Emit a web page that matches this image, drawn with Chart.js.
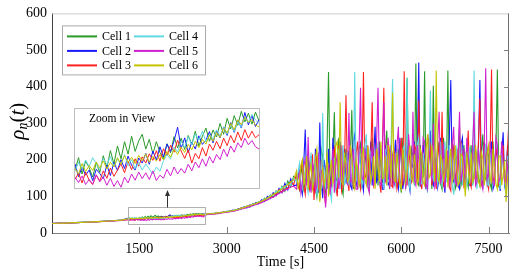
<!DOCTYPE html>
<html>
<head>
<meta charset="utf-8">
<script src="https://cdn.jsdelivr.net/npm/chart.js@4.4.0/dist/chart.umd.min.js"></script>
<style>
  html, body { margin: 0; padding: 0; background: #fff; }
  #wrap { position: relative; width: 512px; height: 271px; }
  #main { position: absolute; left: 0; top: 0; }
  #insetBox { position: absolute; left: 74px; top: 108px; width: 184px; height: 79px;
              border: 1px solid #bdbdbd; background: #fff; }
</style>
</head>
<body>
<div id="wrap">
  <canvas id="main" width="512" height="271"></canvas>
  <div id="insetBox"><canvas id="inset" width="184" height="79"></canvas></div>
</div>
<script>
// sampling grid: [start, step, count]
const segments = [[0, 100, 13], [1300, 25, 53], [2650, 50, 31], [4200, 25, 147]];
const labels = ['Cell 1', 'Cell 2', 'Cell 3', 'Cell 4', 'Cell 5', 'Cell 6'];
const colors = ['#2a9a2a', '#1a1aff', '#ff2020', '#5fd8e0', '#d020d0', '#c4c400'];
const xTicks = [1500, 3000, 4500, 6000, 7500];
const yTicks = [0, 100, 200, 300, 400, 500, 600];

const cell1 = [
  26, 26.5, 27, 27.6, 28.2, 28.9, 29.6, 30.4, 31.2, 32, 33, 34, 35.2,
  38.5, 41.8, 37.6, 40.9, 39.2, 36.8, 40.5, 38.0, 42.3, 39.1,
  43.6, 40.2, 44.8, 41.5, 45.9, 42.7, 47.3, 43.4, 46.1, 47.8,
  44.0, 46.5, 42.8, 45.9, 43.1, 41.6, 45.4, 43.0, 47.2, 44.3,
  46.8, 43.9, 47.5, 45.2, 48.6, 44.8, 47.3, 49.4, 46.0, 48.9,
  47.1, 50.6, 47.8, 51.9, 49.2, 52.6, 50.1, 53.7, 51.0, 53.2,
  50.4, 53.5, 51.3,
  52, 51, 54, 52.5, 55.5, 54, 58, 57, 61, 59.5, 64, 63.5, 69, 68, 74, 71, 80, 78, 86, 84,
  95, 92, 104, 98, 115, 108, 128, 114, 142, 126, 155,
  150, 132, 118, 160, 185, 120, 140, 175, 205, 150, 125, 190, 170, 120, 98, 145, 160, 230, 210, 130,
  110, 240, 440, 160, 125, 210, 330, 140, 150, 260, 200, 125, 105, 180, 230, 150, 140, 210, 336, 120,
  160, 190, 120, 230, 245, 130, 150, 220, 190, 140, 115, 200, 260, 135, 170, 215, 130, 250, 210, 140,
  145, 220, 280, 150, 120, 240, 195, 130, 160, 200, 230, 140, 110, 260, 175, 120, 424, 150, 140, 230,
  210, 130, 463, 140, 130, 240, 190, 150, 442, 130, 150, 260, 220, 120, 402, 160, 140, 220, 250, 135,
  120, 260, 200, 150, 444, 140, 160, 250, 230, 120, 135, 210, 290, 130, 150, 240, 185, 145, 125, 200,
  240, 130, 160, 230, 200, 150, 130, 220, 270, 140, 150, 230, 210, 135, 120, 250, 180, 220, 447, 130,
  140, 250, 220, 150, 110, 230, 190
];
const cell2 = [
  26.2, 26.6, 27.2, 27.7, 28.4, 29, 29.8, 30.5, 31.4, 32.3, 33.2, 34.3, 35.5,
  40.2, 36.9, 39.4, 37.3, 38.6, 35.9, 38.8, 37.7, 36.4, 39.9,
  37.2, 40.6, 38.5, 41.3, 39.0, 42.2, 39.8, 38.6, 41.7, 40.4,
  42.9, 40.1, 43.5, 41.2, 44.6, 42.0, 45.3, 43.4, 46.1, 49.6,
  44.2, 46.9, 43.1, 45.8, 44.0, 47.4, 45.2, 46.3, 48.5, 45.6,
  48.8, 46.9, 49.7, 47.5, 50.8, 48.3, 51.5, 49.4, 53.4, 50.2,
  52.6, 49.8, 51.6,
  50, 53, 51.5, 54.5, 53, 56.5, 56, 59.5, 58, 62.5, 61, 66.5, 65, 72, 69, 77, 74, 83, 80, 91,
  86, 100, 94, 110, 102, 122, 110, 136, 118, 148, 130,
  130, 150, 175, 125, 105, 190, 283, 140, 150, 180, 210, 135, 120, 230, 180, 110, 302, 140, 95, 200,
  170, 120, 230, 140, 130, 260, 190, 125, 110, 200, 250, 140, 160, 230, 135, 190, 225, 130, 120, 250,
  270, 130, 145, 220, 190, 140, 115, 200, 240, 135, 165, 250, 130, 210, 290, 140, 150, 230, 180, 120,
  120, 240, 210, 130, 170, 230, 135, 200, 255, 140, 120, 260, 195, 120, 150, 210, 230, 140, 115, 190,
  180, 250, 140, 230, 466, 130, 125, 240, 205, 120, 160, 220, 280, 140, 130, 210, 190, 125, 150, 260,
  230, 140, 110, 230, 175, 260, 418, 150, 140, 200, 210, 130, 120, 240, 260, 140, 165, 225, 200, 130,
  130, 210, 240, 140, 150, 230, 418, 160, 120, 250, 190, 135, 160, 220, 250, 120, 135, 240, 205, 140,
  115, 220, 275, 130, 150, 240, 200
];
const cell3 = [
  25.8, 26.3, 26.9, 27.4, 28, 28.7, 29.4, 30.2, 31, 31.9, 32.8, 33.8, 35,
  36.2, 37.8, 35.3, 38.1, 36.0, 34.9, 37.3, 35.8, 38.4, 36.5,
  39.1, 37.0, 38.6, 40.2, 37.9, 40.8, 38.7, 41.5, 39.6, 42.0,
  40.4, 42.8, 41.1, 43.6, 40.9, 44.1, 42.3, 45.0, 43.2, 46.3,
  43.5, 41.6, 43.8, 40.4, 42.9, 41.5, 44.4, 42.2, 45.3, 43.7,
  46.0, 44.1, 46.8, 44.9, 47.5, 45.6, 48.4, 46.2, 49.0, 46.8,
  48.6, 46.9, 47.7,
  51.5, 52, 53, 52, 55, 55, 57.5, 57, 59, 61.5, 62, 64, 68, 69, 71, 76, 76, 81, 82, 88,
  89, 96, 97, 106, 104, 118, 112, 122, 122, 140, 132,
  160, 135, 120, 175, 195, 130, 105, 160, 175, 120, 140, 215, 90, 150, 210, 120, 125, 200, 165, 110,
  80, 160, 190, 120, 150, 210, 230, 130, 100, 240, 170, 115, 140, 200, 376, 150, 115, 240, 200, 130,
  150, 220, 250, 140, 120, 190, 440, 150, 160, 240, 130, 210, 357, 130, 145, 250, 200, 140, 110, 230,
  397, 140, 150, 250, 220, 130, 125, 230, 185, 120, 140, 210, 260, 130, 442, 160, 130, 240, 190, 140,
  155, 240, 230, 135, 362, 150, 120, 220, 180, 130, 145, 260, 240, 130, 160, 220, 120, 250, 210, 140,
  331, 130, 140, 230, 190, 125, 115, 245, 230, 140, 170, 230, 135, 250, 205, 130, 150, 200, 280, 140,
  125, 230, 190, 140, 160, 250, 367, 130, 140, 250, 215, 140, 120, 210, 447, 140, 150, 245, 200, 130,
  130, 200, 240, 140, 155, 230, 310
];
const cell4 = [
  26.1, 26.7, 27.1, 27.8, 28.3, 29.1, 29.7, 30.6, 31.3, 32.2, 33.1, 34.2, 35.4,
  38.4, 40.6, 38.9, 41.2, 39.5, 41.8, 40.2, 38.7, 41.6, 40.0,
  42.1, 39.5, 41.4, 40.1, 42.6, 39.7, 41.3, 39.0, 40.6, 38.6,
  40.2, 38.9, 37.6, 39.4, 38.3, 41.0, 42.6, 41.4, 44.5, 43.2,
  46.1, 44.4, 47.2, 45.1, 47.9, 46.3, 48.6, 45.9, 47.8, 46.6,
  48.9, 47.4, 49.6, 47.8, 50.4, 48.5, 51.1, 49.6, 52.3, 50.7,
  52.9, 51.5, 50.6,
  50.5, 52.5, 52, 54, 54, 56, 56.5, 58.5, 60, 60.5, 63.5, 65, 66.5, 71, 72, 74, 79, 79, 85, 86,
  93, 94, 103, 103, 114, 113, 125, 122, 136, 130, 150,
  140, 165, 190, 135, 120, 150, 175, 130, 110, 170, 220, 130, 150, 205, 100, 160, 185, 120, 328, 140,
  125, 210, 170, 115, 90, 170, 205, 120, 145, 230, 120, 190, 240, 130, 160, 220, 130, 190, 210, 140,
  440, 150, 135, 220, 180, 130, 150, 240, 270, 130, 125, 215, 190, 140, 140, 250, 230, 140, 160, 210,
  120, 230, 200, 140, 145, 250, 421, 150, 130, 240, 175, 130, 150, 225, 240, 130, 423, 140, 120, 200,
  195, 135, 150, 240, 260, 140, 135, 220, 180, 150, 110, 210, 389, 160, 145, 230, 210, 135, 160, 250,
  125, 200, 250, 140, 140, 240, 190, 130, 105, 205, 230, 140, 160, 245, 130, 200, 215, 130, 150, 235,
  180, 130, 444, 150, 120, 230, 200, 140, 150, 210, 245, 135, 130, 220, 185, 130, 140, 250, 230, 150,
  120, 230, 175, 140, 100, 210, 160
];
const cell5 = [
  25.9, 26.4, 26.8, 27.3, 27.9, 28.6, 29.3, 30, 30.8, 31.6, 32.5, 33.4, 34.6,
  36.8, 35.4, 37.1, 34.9, 36.2, 35.0, 37.4, 35.6, 36.8, 34.7,
  36.5, 34.4, 35.9, 34.2, 36.8, 35.3, 37.6, 36.0, 38.1, 36.4,
  37.9, 36.2, 38.4, 35.9, 37.3, 36.5, 38.8, 37.1, 39.4, 37.6,
  39.0, 37.8, 40.1, 38.4, 40.7, 39.2, 41.5, 39.6, 42.1, 40.4,
  42.6, 41.3, 44.0, 42.1, 44.8, 43.2, 45.6, 44.4, 46.8, 45.1,
  46.2, 44.6, 44.0,
  50, 51, 51.5, 52.5, 53, 54.5, 55.5, 56.5, 58, 59, 61, 63, 65.5, 67, 70, 72, 75, 77, 80, 83,
  87, 90, 95, 98, 103, 108, 112, 117, 120, 126, 128,
  120, 150, 165, 110, 140, 185, 200, 130, 262, 140, 110, 190, 175, 115, 130, 220, 90, 170, 160, 120,
  70, 150, 185, 105, 140, 230, 110, 180, 220, 120, 150, 240, 125, 200, 190, 130, 328, 140, 140, 230,
  170, 120, 120, 240, 397, 150, 145, 230, 200, 125, 110, 205, 235, 130, 160, 250, 397, 140, 130, 215,
  357, 140, 170, 260, 120, 230, 210, 130, 150, 240, 290, 140, 135, 225, 180, 125, 150, 270, 220, 140,
  331, 145, 130, 240, 200, 130, 170, 260, 250, 135, 120, 230, 185, 140, 300, 125, 140, 250, 331, 135,
  160, 245, 120, 200, 225, 130, 150, 240, 290, 140, 130, 210, 331, 140, 165, 230, 120, 260, 205, 135,
  150, 240, 331, 130, 140, 230, 180, 140, 120, 240, 450, 150, 160, 250, 200, 135, 130, 260, 240, 140,
  150, 250, 190, 140, 130, 180, 230
];
const cell6 = [
  26, 26.5, 27.1, 27.6, 28.3, 28.9, 29.6, 30.3, 31.1, 32, 32.9, 34, 35.3,
  39.0, 37.6, 40.3, 38.2, 39.8, 38.5, 40.7, 39.1, 41.0, 38.9,
  40.6, 39.4, 41.8, 40.1, 42.3, 40.6, 41.9, 40.3, 42.4, 41.0,
  42.8, 40.6, 42.1, 40.9, 42.6, 41.2, 43.4, 41.9, 44.0, 42.6,
  44.5, 43.1, 45.2, 43.8, 46.0, 44.4, 46.5, 45.3, 47.6, 46.0,
  48.3, 47.0, 49.4, 48.1, 50.6, 49.0, 51.5, 50.3, 52.2, 50.9,
  51.6, 50.2, 49.7,
  51, 52.5, 52.5, 54, 55, 55.5, 57, 58, 59.5, 61, 63, 65, 67, 70, 73, 75, 78, 80, 84, 87,
  91, 96, 99, 106, 109, 116, 120, 128, 132, 140, 145,
  170, 125, 140, 185, 200, 130, 160, 210, 120, 165, 190, 120, 140, 205, 230, 150, 85, 140, 180, 130,
  150, 220, 100, 170, 200, 135, 160, 240, 250, 150, 357, 140, 130, 220, 185, 140, 150, 240, 210, 135,
  120, 200, 175, 130, 145, 215, 230, 145, 130, 235, 200, 140, 160, 210, 120, 230, 185, 140, 250, 150,
  150, 210, 130, 240, 205, 150, 383, 145, 140, 220, 175, 135, 120, 230, 195, 140, 165, 210, 240, 150,
  140, 215, 180, 135, 150, 230, 215, 140, 130, 225, 270, 150, 160, 240, 190, 140, 444, 155, 140, 210,
  200, 140, 170, 230, 125, 200, 230, 140, 155, 240, 185, 130, 140, 215, 210, 150, 100, 220, 175, 135,
  220, 140, 150, 240, 190, 140, 130, 220, 205, 130, 165, 215, 240, 150, 140, 230, 180, 135, 120, 210,
  210, 130, 160, 200, 85, 150, 175
];
const cells = [cell1, cell2, cell3, cell4, cell5, cell6];

// zoomed window shown in the inset
const zoomT0 = 1300, zoomT1 = 2600, zoomV0 = 34, zoomV1 = 54.3;

const times = [];
segments.forEach(([start, step, count]) => {
  for (let i = 0; i < count; i++) times.push(start + step * i);
});
cells.forEach((c, i) => { if (c.length !== times.length) console.error(labels[i], c.length, times.length); });

const serif = "'Liberation Serif', 'Times New Roman', serif";
const insetFrom = segments[0][2];
const insetTo = insetFrom + segments[1][2];

function makeDatasets(from, to, width) {
  return cells.map((c, i) => ({
    label: labels[i],
    data: times.slice(from, to).map((t, j) => ({ x: t, y: c[from + j] })),
    borderColor: colors[i],
    borderWidth: width,
    pointRadius: 0,
    tension: 0,
    order: cells.length - i
  }));
}

const framePlugin = {
  id: 'frame',
  afterDatasetsDraw(chart) {
    const { ctx, chartArea: a, scales: { x, y } } = chart;
    ctx.save();
    ctx.lineWidth = 1;
    ctx.strokeStyle = '#cccccc';
    ctx.beginPath(); ctx.moveTo(a.left, a.top + 0.5); ctx.lineTo(a.right, a.top + 0.5); ctx.stroke();
    ctx.strokeStyle = '#707070';
    ctx.beginPath(); ctx.moveTo(a.right - 0.5, a.top); ctx.lineTo(a.right - 0.5, a.bottom); ctx.stroke();
    ctx.strokeStyle = '#808080';
    xTicks.forEach(v => {
      const px = Math.round(x.getPixelForValue(v)) + 0.5;
      ctx.beginPath(); ctx.moveTo(px, a.bottom); ctx.lineTo(px, a.bottom - 6); ctx.stroke();
    });
    yTicks.slice(1, -1).forEach(v => {
      const py = Math.round(y.getPixelForValue(v)) + 0.5;
      ctx.beginPath(); ctx.moveTo(a.right, py); ctx.lineTo(a.right - 5, py); ctx.stroke();
    });

    // zoom window box and arrow up to the inset
    const bx0 = Math.round(x.getPixelForValue(zoomT0)) + 0.5;
    const bx1 = Math.round(x.getPixelForValue(2620)) + 0.5;
    const by0 = Math.round(y.getPixelForValue(72)) + 0.5;
    const by1 = Math.round(y.getPixelForValue(24)) + 0.5;
    ctx.strokeStyle = '#b0b0b0';
    ctx.strokeRect(bx0, by0, bx1 - bx0, by1 - by0);
    const ax = Math.round((bx0 + bx1) / 2) + 0.5;
    ctx.strokeStyle = '#333';
    ctx.fillStyle = '#333';
    ctx.beginPath(); ctx.moveTo(ax, by0); ctx.lineTo(ax, 194); ctx.stroke();
    ctx.beginPath(); ctx.moveTo(ax, 190); ctx.lineTo(ax - 2.5, 196); ctx.lineTo(ax + 2.5, 196); ctx.closePath(); ctx.fill();

    // legend
    const lx = a.left + 10.5, ly = a.top + 12.5;
    ctx.fillStyle = '#fff';
    ctx.fillRect(lx, ly, 143, 49);
    ctx.strokeStyle = '#aaaaaa';
    ctx.strokeRect(lx, ly, 143, 49);
    ctx.font = `12px ${serif}`;
    ctx.textBaseline = 'middle';
    labels.forEach((lab, i) => {
      const col = Math.floor(i / 3), row = i % 3;
      const x0 = lx + 4.5 + col * 67, yy = ly + 10.5 + row * 14.5;
      ctx.strokeStyle = colors[i];
      ctx.lineWidth = 2;
      ctx.beginPath(); ctx.moveTo(x0, yy); ctx.lineTo(x0 + 30, yy); ctx.stroke();
      ctx.fillStyle = '#000';
      ctx.fillText(lab, x0 + 35, yy + 0.5);
    });

    // y-axis title rho_n(t)
    const parts = [
      { t: '\u03C1', f: `italic 21px ${serif}`, dy: 0 },
      { t: 'n', f: `italic 14px ${serif}`, dy: 5 },
      { t: '(', f: `21px ${serif}`, dy: 0 },
      { t: 't', f: `italic 21px ${serif}`, dy: 0 },
      { t: ')', f: `21px ${serif}`, dy: 0 }
    ];
    let total = 0;
    parts.forEach(p => { ctx.font = p.f; p.w = ctx.measureText(p.t).width; total += p.w; });
    ctx.translate(18, (a.top + a.bottom) / 2 - 2);
    ctx.rotate(-Math.PI / 2);
    ctx.fillStyle = '#000';
    ctx.textBaseline = 'middle';
    let cx = -total / 2;
    parts.forEach(p => { ctx.font = p.f; ctx.fillText(p.t, cx, p.dy); cx += p.w; });
    ctx.restore();
  }
};

new Chart(document.getElementById('main'), {
  type: 'line',
  data: { datasets: makeDatasets(0, times.length, 1.1) },
  options: {
    responsive: false,
    animation: false,
    events: [],
    layout: { padding: { top: 5, right: 3, left: 0, bottom: 0 } },
    plugins: { legend: { display: false }, tooltip: { enabled: false } },
    scales: {
      x: {
        type: 'linear', min: 0, max: 7850,
        afterBuildTicks: s => { s.ticks = xTicks.map(v => ({ value: v })); },
        afterFit: s => { s.height = 38; },
        grid: { display: false, drawTicks: false },
        border: { display: true, color: '#808080' },
        ticks: { color: '#000', font: { family: serif, size: 14 }, padding: 8, maxRotation: 0,
                 callback: v => String(v) },
        title: { display: true, text: 'Time [s]', color: '#000', font: { family: serif, size: 14 }, padding: { top: 0, bottom: 0 } }
      },
      y: {
        min: 0, max: 600,
        afterBuildTicks: s => { s.ticks = yTicks.map(v => ({ value: v })); },
        afterFit: s => { s.width = 52; },
        grid: { display: false, drawTicks: false },
        border: { display: true, color: '#404040' },
        ticks: { color: '#000', font: { family: serif, size: 14 }, padding: 5 }
      }
    }
  },
  plugins: [framePlugin]
});

const insetText = {
  id: 'insetText',
  afterDraw(chart) {
    const { ctx } = chart;
    ctx.save();
    ctx.font = `11.5px ${serif}`;
    ctx.fillStyle = '#000';
    ctx.textBaseline = 'middle';
    ctx.fillText('Zoom in View', 14, 10);
    ctx.restore();
  }
};

new Chart(document.getElementById('inset'), {
  type: 'line',
  data: { datasets: makeDatasets(insetFrom, insetTo, 1) },
  options: {
    responsive: false,
    animation: false,
    events: [],
    layout: { padding: 0 },
    plugins: { legend: { display: false }, tooltip: { enabled: false } },
    scales: {
      x: { type: 'linear', min: zoomT0, max: zoomT1, display: false },
      y: { min: zoomV0, max: zoomV1, display: false }
    }
  },
  plugins: [insetText]
});
</script>
</body>
</html>
